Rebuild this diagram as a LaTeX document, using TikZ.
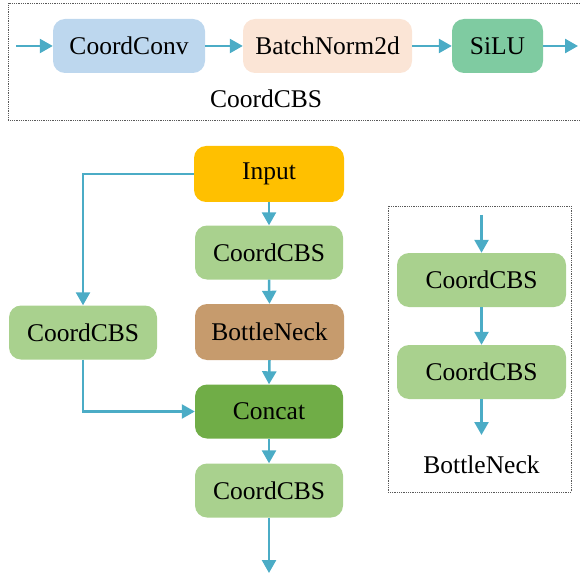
\documentclass[tikz,border=0pt]{standalone}
\usepackage{fontspec}
\setmainfont{Liberation Serif}
\usetikzlibrary{arrows.meta}
\definecolor{arrowblue}{RGB}{75,172,198}
\definecolor{convblue}{RGB}{189,215,238}
\definecolor{bnpeach}{RGB}{251,229,214}
\definecolor{silugreen}{RGB}{127,203,161}
\definecolor{inputgold}{RGB}{255,192,0}
\definecolor{cbsgreen}{RGB}{169,209,142}
\definecolor{neckbrown}{RGB}{198,155,109}
\definecolor{concatgreen}{RGB}{112,173,71}

\begin{document}
\begin{tikzpicture}[x=1pt,y=-1pt,>={Triangle[length=13pt,width=14pt]},
  font=\fontsize{25.5}{30}\selectfont,
  blk/.style={rounded corners=12pt,minimum height=54pt,inner sep=0pt},
  cbs/.style={blk,fill=cbsgreen,minimum width=148pt},
  flow/.style={->,arrowblue,line width=2.5pt},
  frame/.style={gray!70!black,densely dotted,line width=0.8pt}]
\useasboundingbox (0,0) rectangle (580,577);
% CoordCBS block
\draw[frame] (580,3) -- (8,3) -- (8,120) -- (580,120);
\coordinate (cin) at (16,46);
\coordinate (cout) at (578,46);
\node[blk,fill=convblue,minimum width=152pt] (conv) at (129,46) {CoordConv};
\node[blk,fill=bnpeach,minimum width=169pt] (bn) at (327.5,46) {BatchNorm2d};
\node[blk,fill=silugreen,minimum width=91pt] (silu) at (497.5,46) {SiLU};
\node (cbslabel) at (266,99) {CoordCBS};
\draw[flow] (cin) -- (conv.west);
\draw[flow] (conv.east) -- (bn.west);
\draw[flow] (bn.east) -- (silu.west);
\draw[flow] (silu.east) -- (cout);
% main branch
\node[blk,fill=inputgold,minimum width=150pt,minimum height=56pt] (inp) at (269,174) {Input};
\node[cbs] (cbs1) at (269,252.5) {CoordCBS};
\node[blk,fill=neckbrown,minimum width=149pt,minimum height=56pt] (neck) at (269.5,332) {BottleNeck};
\node[cbs] (cbsL) at (83,332.5) {CoordCBS};
\node[blk,fill=concatgreen,minimum width=148pt] (concat) at (269,411.5) {Concat};
\node[cbs] (cbs2) at (269,490.5) {CoordCBS};
\coordinate (out) at (269,573);
\draw[flow] (inp.south) -- (cbs1.north);
\draw[flow] (cbs1.south) -- (neck.north);
\draw[flow] (neck.south) -- (concat.north);
\draw[flow] (concat.south) -- (cbs2.north);
\draw[flow] (cbs2.south) -- (out);
\draw[flow] (inp.west) -| (cbsL.north);
\draw[flow] (cbsL.south) |- (concat.west);
% BottleNeck block
\draw[frame] (388,206) rectangle (571,492);
\coordinate (nin) at (481.5,215);
\coordinate (nout) at (481.5,435);
\node[cbs,minimum width=169pt] (cbsA) at (481.5,280) {CoordCBS};
\node[cbs,minimum width=169pt] (cbsB) at (481.5,372) {CoordCBS};
\node (necklabel) at (481.5,465) {BottleNeck};
\draw[flow] (nin) -- (cbsA.north);
\draw[flow] (cbsA.south) -- (cbsB.north);
\draw[flow] (cbsB.south) -- (nout);
\end{tikzpicture}
\end{document}
